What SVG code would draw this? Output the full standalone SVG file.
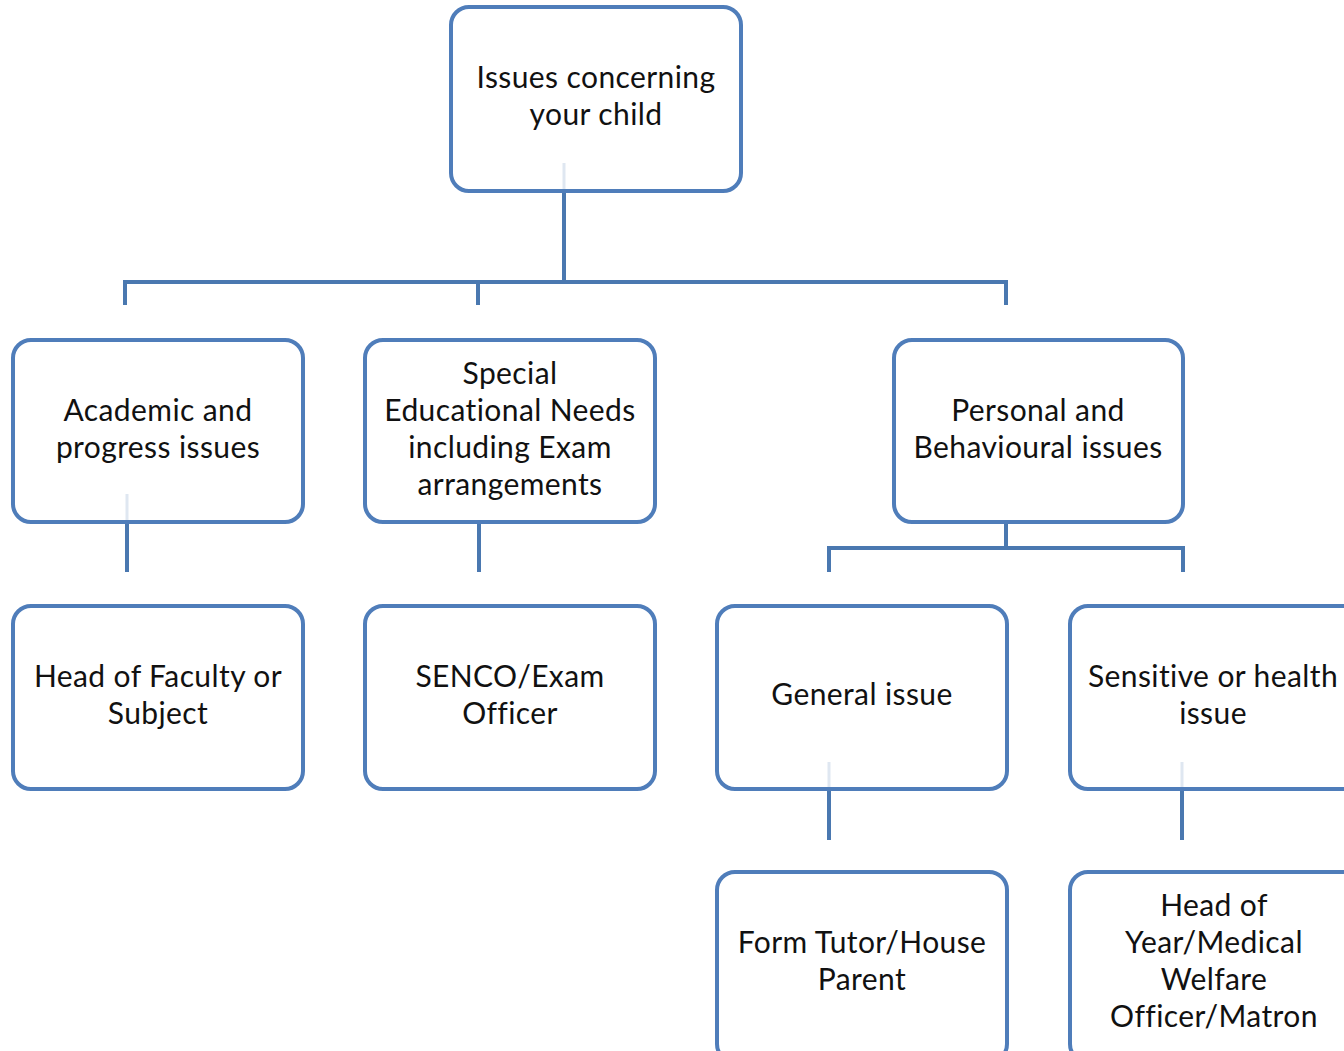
<svg xmlns="http://www.w3.org/2000/svg" width="1344" height="1051" viewBox="0 0 1344 1051">
<style>
.box{fill:#fff;stroke:#4f7dba;stroke-width:4}
.c{fill:none;stroke:#4a78b0;stroke-width:4}
.f{fill:none;stroke:#dfe7f1;stroke-width:3}
text{font-family:Lato,"Open Sans",sans-serif;font-size:30px;letter-spacing:0.4px;fill:#111;text-anchor:middle}
</style>
<rect width="1344" height="1051" fill="#fff"/>
<g id="connectors">
<path class="c" d="M564 191V282M125 305V282H1006V305M478 282V305"/>
<path class="c" d="M127 522V572M479 522V572"/>
<path class="c" d="M1006 522V548M829 572V548H1183V572"/>
<path class="c" d="M829 789V840M1182 789V840"/>
</g>
<g id="root"><rect class="box" x="451" y="7" width="290" height="184" rx="18"/>
<path class="f" d="M564 163V189"/>
<text x="596" y="88">Issues concerning</text><text x="596" y="125">your child</text></g>
<g id="academic"><rect class="box" x="13" y="340" width="290" height="182" rx="18"/>
<path class="f" d="M127 494V520"/>
<text x="158" y="421">Academic and</text><text x="158" y="458">progress issues</text></g>
<g id="sen"><rect class="box" x="365" y="340" width="290" height="182" rx="18"/>
<text x="510" y="384">Special</text><text x="510" y="421">Educational Needs</text><text x="510" y="458">including Exam</text><text x="510" y="495">arrangements</text></g>
<g id="personal"><rect class="box" x="894" y="340" width="289" height="182" rx="18"/>
<text x="1038" y="421">Personal and</text><text x="1038" y="458">Behavioural issues</text></g>
<g id="head-faculty"><rect class="box" x="13" y="606" width="290" height="183" rx="18"/>
<text x="158" y="687">Head of Faculty or</text><text x="158" y="724">Subject</text></g>
<g id="senco"><rect class="box" x="365" y="606" width="290" height="183" rx="18"/>
<text x="510" y="687">SENCO/Exam</text><text x="510" y="724">Officer</text></g>
<g id="general"><rect class="box" x="717" y="606" width="290" height="183" rx="18"/>
<path class="f" d="M829 762V787"/>
<text x="862" y="705">General issue</text></g>
<g id="sensitive"><rect class="box" x="1070" y="606" width="290" height="183" rx="18"/>
<path class="f" d="M1182 762V787"/>
<text x="1213" y="687">Sensitive or health</text><text x="1213" y="724">issue</text></g>
<g id="form-tutor"><rect class="box" x="717" y="872" width="290" height="190" rx="18"/>
<text x="862" y="953">Form Tutor/House</text><text x="862" y="990">Parent</text></g>
<g id="head-year"><rect class="box" x="1070" y="872" width="290" height="190" rx="18"/>
<text x="1214" y="916">Head of</text><text x="1214" y="953">Year/Medical</text><text x="1214" y="990">Welfare</text><text x="1214" y="1027">Officer/Matron</text></g>
</svg>
